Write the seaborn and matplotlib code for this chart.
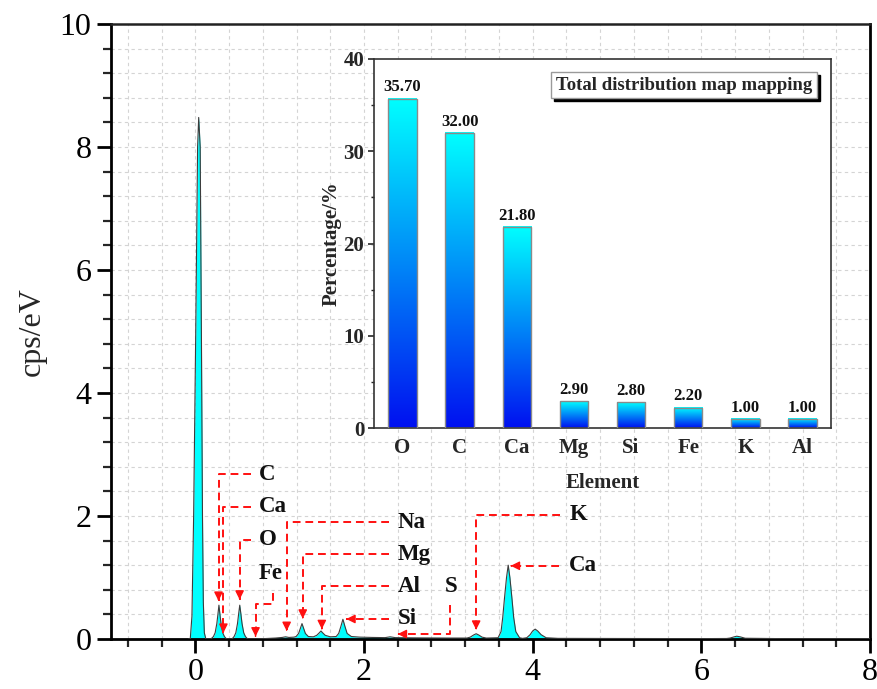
import numpy as np
import pandas as pd
import matplotlib
matplotlib.use("Agg")
import matplotlib.pyplot as plt
import seaborn as sns
from matplotlib.colors import LinearSegmentedColormap
from matplotlib.patches import Patch

# EDS spectrum (energy in keV, intensity in cps/eV)
energy_kev = [
    -0.08, -0.06, -0.04, -0.02, 0.005, 0.027, 0.04, 0.058, 0.072, 0.085, 0.095, 0.107, 0.125,
    0.185, 0.215, 0.235, 0.255, 0.268, 0.28, 0.292, 0.305, 0.325, 0.345, 0.37,
    0.435, 0.46, 0.48, 0.50, 0.513, 0.527, 0.541, 0.554, 0.574, 0.594, 0.62,
    0.70, 0.80, 0.95, 1.03, 1.07, 1.11, 1.17,
    1.195, 1.225, 1.245, 1.265, 1.285, 1.305, 1.34,
    1.40, 1.44, 1.47, 1.49, 1.51, 1.54, 1.60,
    1.67, 1.70, 1.725, 1.75, 1.775, 1.80, 1.85,
    1.95, 2.10, 2.25, 2.31, 2.37, 2.60, 3.00, 3.22,
    3.26, 3.30, 3.33, 3.36, 3.40, 3.45,
    3.59, 3.625, 3.645, 3.665, 3.69, 3.71, 3.73, 3.755, 3.775, 3.80, 3.845,
    3.88,
    3.93, 3.97, 4.00, 4.03, 4.06, 4.10, 4.16,
    4.30, 5.00, 6.00, 6.30,
    6.34, 6.39, 6.42, 6.46, 6.52,
    7.00, 8.00,
]
cps_per_ev = [
    0.0, 0.0, 0.37, 2.0, 5.0, 8.0, 8.48, 8.0, 5.0, 2.0, 0.6, 0.1, 0.0,
    0.0, 0.04, 0.10, 0.25, 0.40, 0.55, 0.40, 0.25, 0.10, 0.04, 0.0,
    0.0, 0.04, 0.10, 0.25, 0.40, 0.55, 0.40, 0.25, 0.10, 0.04, 0.0,
    0.0, 0.005, 0.015, 0.025, 0.035, 0.025, 0.03,
    0.04, 0.09, 0.17, 0.25, 0.17, 0.09, 0.04,
    0.035, 0.06, 0.10, 0.13, 0.10, 0.06, 0.035,
    0.04, 0.09, 0.20, 0.32, 0.20, 0.09, 0.04,
    0.03, 0.025, 0.022, 0.035, 0.022, 0.018, 0.015, 0.015,
    0.03, 0.065, 0.085, 0.065, 0.03, 0.015,
    0.02, 0.12, 0.35, 0.65, 1.0, 1.2, 1.0, 0.65, 0.35, 0.12, 0.02,
    0.01,
    0.02, 0.07, 0.13, 0.16, 0.13, 0.07, 0.02,
    0.01, 0.008, 0.006, 0.008,
    0.015, 0.035, 0.045, 0.035, 0.012,
    0.005, 0.004,
]

# Element composition (mass percentage)
elements = ["O", "C", "Ca", "Mg", "Si", "Fe", "K", "Al"]
percentage = [35.70, 32.00, 21.80, 2.90, 2.80, 2.20, 1.00, 1.00]

# Peak identification labels: text anchor and dashed leader path (data coords)
peak_labels = ["C", "Ca", "O", "Fe", "Na", "Mg", "Al", "Si", "S", "K", "Ca"]
label_xy = [(0.75, 2.68), (0.75, 2.15), (0.75, 1.61), (0.75, 1.07),
            (2.40, 1.90), (2.40, 1.38), (2.40, 0.86), (2.40, 0.325),
            (2.96, 0.86), (4.44, 2.02), (4.43, 1.19)]
leader_paths = [
    [(0.655, 2.68), (0.275, 2.68), (0.275, 0.62)],
    [(0.655, 2.15), (0.333, 2.15), (0.333, 0.10)],
    [(0.655, 1.61), (0.525, 1.61), (0.525, 0.64)],
    [(0.917, 0.75), (0.917, 0.57), (0.714, 0.57), (0.714, 0.04)],
    [(2.30, 1.90), (1.083, 1.90), (1.083, 0.13)],
    [(2.30, 1.38), (1.274, 1.38), (1.274, 0.33)],
    [(2.30, 0.86), (1.50, 0.86), (1.50, 0.16)],
    [(2.30, 0.325), (1.79, 0.325)],
    [(3.02, 0.55), (3.02, 0.08), (2.40, 0.08)],
    [(4.32, 2.02), (3.33, 2.02), (3.33, 0.15)],
    [(4.31, 1.19), (3.74, 1.19)],
]

sns.set_theme(style="white")
plt.rcParams["font.family"] = ["Liberation Serif", "DejaVu Serif"]

fig = plt.figure(figsize=(8.78, 6.89), dpi=100)
ax = fig.add_axes([0.1264, 0.0726, 0.8645, 0.8926])

# spectrum: filled area with a thin dark outline
ax.fill_between(energy_kev, cps_per_ev, 0, color="#00FFFF", zorder=2, linewidth=0)
sns.lineplot(x=energy_kev, y=cps_per_ev, ax=ax, color="#3c3c3c", linewidth=0.8,
             sort=False, estimator=None, zorder=3)

ax.set_xlim(-1, 8)
ax.set_ylim(0, 10)
ax.set_xticks([0, 2, 4, 6, 8])
ax.set_yticks([0, 2, 4, 6, 8, 10])
ax.set_xticks(np.arange(-0.8, 8.01, 0.4), minor=True)
ax.set_yticks(np.arange(0.4, 10.0, 0.4), minor=True)
ax.set_axisbelow(True)
ax.grid(which="both", linestyle=(0, (3, 3)), color="#d4d4d4", linewidth=0.8)
ax.tick_params(which="major", direction="out", length=10, width=2, labelsize=23,
               colors="black", bottom=True, left=True, top=False, right=False, pad=4)
ax.tick_params(which="minor", direction="out", length=6, width=1.6,
               bottom=True, left=True, top=False, right=False)
for side in ["left", "bottom", "right"]:
    ax.spines[side].set_linewidth(2.0)
    ax.spines[side].set_color("black")
ax.spines["top"].set_linewidth(1.8)
ax.spines["top"].set_color("#222222")
ax.set_ylabel("cps/eV", fontsize=23, labelpad=9)
ax.set_xlabel("")

# peak identification leaders
red = "#FF1010"
for name, (tx, ty), path in zip(peak_labels, label_xy, leader_paths):
    xs = [p[0] for p in path]
    ys = [p[1] for p in path]
    ax.plot(xs, ys, color=red, linestyle=(0, (4, 2.5)), linewidth=1.4, zorder=4)
    (x1, y1), (x2, y2) = path[-2], path[-1]
    ax.annotate("", xy=(x2, y2), xytext=(x2 + (x1 - x2) * 0.02, y2 + (y1 - y2) * 0.02),
                arrowprops=dict(arrowstyle="-|>", color=red, lw=1.0,
                                mutation_scale=13, shrinkA=0, shrinkB=0),
                zorder=5)
    ax.text(tx, ty, name, fontsize=16.5, fontweight="bold", ha="left", va="center",
            color="#111111", zorder=5)

# inset: composition bar chart with vertical blue-to-cyan gradient
ins = fig.add_axes([374 / 878, 1 - 428 / 689, 457 / 878, 369 / 689])
ins.set_facecolor("white")
comp = pd.DataFrame({"Element": elements, "Percentage": percentage})
sns.barplot(data=comp, x="Element", y="Percentage", order=elements, ax=ins,
            width=0.5, color="#00FFFF", edgecolor="#8a8a8a", linewidth=1.0, zorder=3)
cmap = LinearSegmentedColormap.from_list("blue_cyan", ["#0010F0", "#00FFFF"])
grad = np.linspace(0, 1, 256).reshape(-1, 1)
for patch in ins.patches:
    patch.set_facecolor("none")
    x0, w, h = patch.get_x(), patch.get_width(), patch.get_height()
    ins.imshow(grad, extent=(x0, x0 + w, 0, h), origin="lower", aspect="auto",
               cmap=cmap, zorder=2, interpolation="bilinear")
    ins.text(x0 + w / 2, h + 0.35, f"{h:.2f}", ha="center", va="bottom",
             fontsize=12, fontweight="bold", color="#111111", zorder=4)
ins.set_xlim(-0.5, len(elements) - 0.5)
ins.set_ylim(0, 40)
ins.set_yticks([0, 10, 20, 30, 40])
ins.set_yticks([5, 15, 25, 35], minor=True)
ins.tick_params(axis="y", which="major", direction="out", length=4, width=1.2,
                labelsize=15, left=True, pad=3)
ins.tick_params(axis="y", which="minor", direction="out", length=2.5, width=1.0, left=True)
ins.tick_params(axis="x", length=0, labelsize=15, pad=7)
for lbl in ins.get_xticklabels() + ins.get_yticklabels():
    lbl.set_fontweight("bold")
for sp in ins.spines.values():
    sp.set_linewidth(1.2)
    sp.set_color("#333333")
ins.set_xlabel("Element", fontsize=15, fontweight="bold", labelpad=11)
ins.set_ylabel("Percentage/%", fontsize=15, fontweight="bold", labelpad=1)
ins.grid(False)

leg = ins.legend([Patch(visible=False)], ["Total distribution map mapping"],
                 loc="upper right", bbox_to_anchor=(0.969, 0.965), borderaxespad=0,
                 handlelength=0, handletextpad=0, frameon=True, fancybox=False,
                 shadow={"color": "black", "alpha": 1.0}, borderpad=0.25,
                 edgecolor="#9a9a9a", framealpha=1.0,
                 prop={"family": "Liberation Serif", "weight": "bold", "size": 13.5})

fig.savefig("out.png", dpi=100, facecolor="white")
